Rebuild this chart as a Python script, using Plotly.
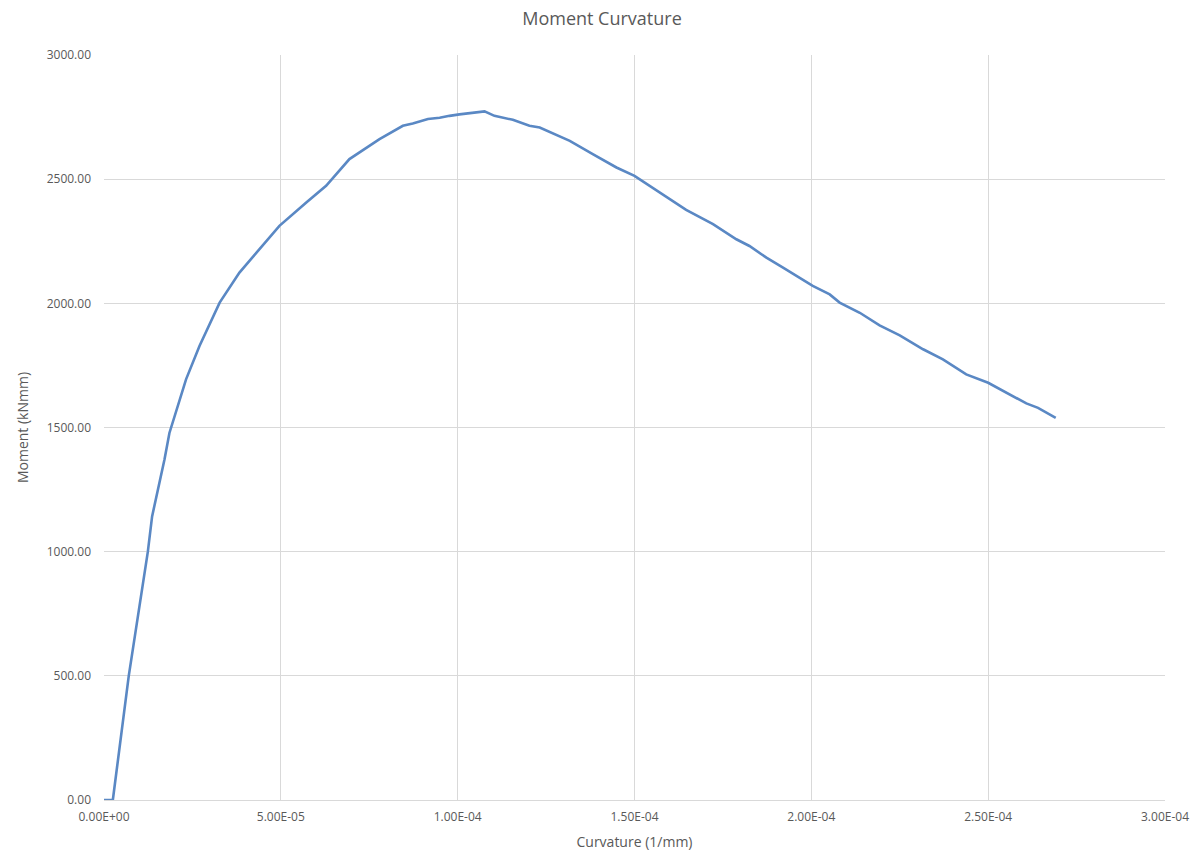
import plotly.graph_objects as go

# Moment-curvature response of the section
curvature = [
    0.0, 0.25e-5, 0.70e-5, 1.24e-5, 1.36e-5, 1.71e-5, 1.85e-5, 2.32e-5, 2.70e-5,
    3.27e-5, 3.83e-5, 4.40e-5, 4.96e-5, 5.72e-5, 6.28e-5, 6.94e-5, 7.79e-5,
    8.45e-5, 8.73e-5, 9.16e-5, 9.49e-5, 9.77e-5, 10.05e-5, 10.76e-5, 11.04e-5,
    11.56e-5, 12.03e-5, 12.32e-5, 12.79e-5, 13.17e-5, 13.82e-5, 14.49e-5,
    15.00e-5, 15.71e-5, 16.46e-5, 17.22e-5, 17.88e-5, 18.25e-5, 18.73e-5,
    19.20e-5, 19.57e-5, 20.04e-5, 20.52e-5, 20.80e-5, 21.37e-5, 21.93e-5,
    22.50e-5, 23.16e-5, 23.72e-5, 24.38e-5, 25.00e-5, 25.51e-5, 26.08e-5,
    26.41e-5, 26.91e-5,
]
moment = [
    0, 0, 500, 1000, 1142, 1371, 1478, 1694, 1828,
    2003, 2124, 2218, 2312, 2406, 2473, 2581, 2661,
    2715, 2724, 2742, 2747, 2755, 2761, 2773, 2755,
    2739, 2715, 2708, 2677, 2654, 2601, 2547,
    2513, 2446, 2376, 2319, 2258, 2231, 2184,
    2144, 2110, 2070, 2036, 2003, 1962, 1911,
    1871, 1815, 1774, 1714, 1680, 1640, 1597,
    1579, 1539,
]

x_tick_vals = [0, 5e-5, 1e-4, 1.5e-4, 2e-4, 2.5e-4, 3e-4]
x_tick_text = ["0.00E+00", "5.00E-05", "1.00E-04", "1.50E-04",
               "2.00E-04", "2.50E-04", "3.00E-04"]
y_tick_vals = [0, 500, 1000, 1500, 2000, 2500, 3000]

grey_text = "#595959"
grid = "#d9d9d9"
font_family = "Open Sans, Liberation Sans, sans-serif"

fig = go.Figure(
    go.Scatter(
        x=curvature,
        y=moment,
        mode="lines",
        line=dict(color="#5a88c4", width=2.6),
        showlegend=False,
    )
)

fig.update_layout(
    width=1204,
    height=864,
    paper_bgcolor="white",
    plot_bgcolor="white",
    margin=dict(l=104, r=39, t=55, b=64),
    font=dict(family=font_family, color=grey_text),
    title=dict(
        text="Moment Curvature",
        x=0.5,
        xanchor="center",
        y=0.978,
        yanchor="middle",
        font=dict(size=18, color=grey_text, family=font_family),
    ),
)

fig.update_xaxes(
    range=[0, 3e-4],
    tickvals=x_tick_vals,
    ticktext=x_tick_text,
    tickfont=dict(size=12, color=grey_text),
    ticklabelstandoff=6,
    showgrid=True,
    gridcolor=grid,
    gridwidth=1,
    zeroline=False,
    showline=True,
    linecolor=grid,
    linewidth=1,
    ticks="",
    title=dict(text="Curvature (1/mm)", font=dict(size=14, color=grey_text), standoff=12),
)

fig.update_yaxes(
    range=[0, 3000],
    tickvals=y_tick_vals,
    tickformat=".2f",
    tickfont=dict(size=12, color=grey_text),
    ticklabelstandoff=12,
    showgrid=True,
    gridcolor=grid,
    gridwidth=1,
    zeroline=False,
    showline=False,
    ticks="",
    title=dict(text="Moment (kNmm)", font=dict(size=14, color=grey_text), standoff=14),
)

fig.write_html("out.html")
